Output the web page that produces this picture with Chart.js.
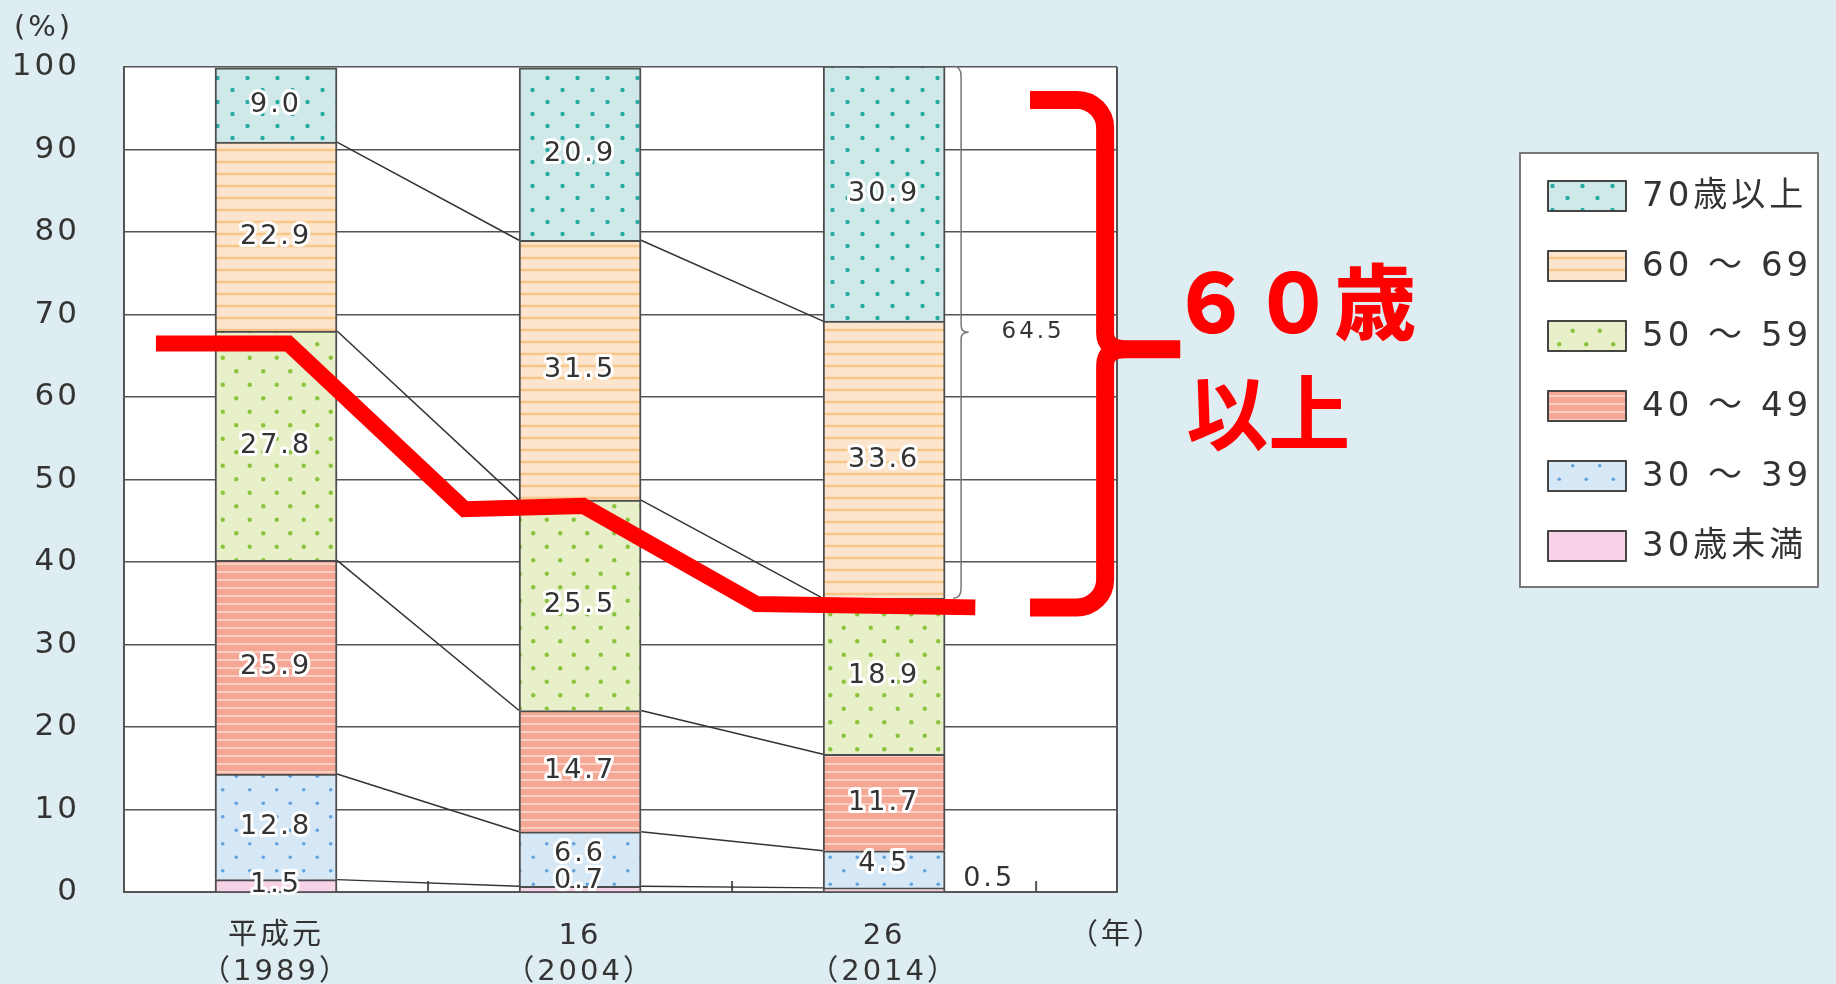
<!DOCTYPE html>
<html lang="ja">
<head>
<meta charset="utf-8">
<script src="https://cdn.jsdelivr.net/npm/chart.js@4.4.1/dist/chart.umd.min.js"></script>
<style>
  html, body { margin: 0; padding: 0; background: #ddedf2; }
  #wrap { width: 1836px; height: 984px; }
</style>
</head>
<body>
<div id="wrap"><canvas id="chart" width="1836" height="984"></canvas></div>
<script>
// --- data ---
const years = [['平成元', '（1989）'], ['16', '（2004）'], ['26', '（2014）']];
const yearPos = [0.5, 1.5, 2.5];
const xMax = 3.266;
const yearUnit = '（年）';
const ageGroups = ['30歳未満', '30 ～ 39', '40 ～ 49', '50 ～ 59', '60 ～ 69', '70歳以上'];
const under30 = [1.5, 0.7, 0.5];
const age30s = [12.8, 6.6, 4.5];
const age40s = [25.9, 14.7, 11.7];
const age50s = [27.8, 25.5, 18.9];
const age60s = [22.9, 31.5, 33.6];
const over70 = [9.0, 20.9, 30.9];
const series = [under30, age30s, age40s, age50s, age60s, over70];

// red hand drawn marking of the "60歳以上" share
const redLineX = [0.105, 0.54, 1.12, 1.51, 2.08, 2.80];
const redLineY = [66.5, 66.5, 46.4, 46.8, 34.9, 34.5];
const redBracketY = [96.0, 65.8, 34.5];    // top, tip, bottom
const redBracketX = [2.98, 3.227, 3.474];  // arm end, spine, tip
const redText = ['６０歳', '以上'];

const numFont = '"DejaVu Sans", "Noto Sans CJK JP", sans-serif';
const cjkFont = '"Noto Sans CJK JP", "DejaVu Sans", sans-serif';

// --- fills ---
const canvas = document.getElementById('chart');
const ctx = canvas.getContext('2d');

function makePattern(bg, w, h, draw) {
  const c = document.createElement('canvas');
  c.width = w; c.height = h;
  const g = c.getContext('2d');
  g.fillStyle = bg;
  g.fillRect(0, 0, w, h);
  if (draw) draw(g, w, h);
  return ctx.createPattern(c, 'repeat');
}
function dots(color, r) {
  return (g, w, h) => {
    g.fillStyle = color;
    [[w / 4, h / 4], [w * 3 / 4, h * 3 / 4]].forEach(([x, y]) => {
      g.beginPath(); g.arc(x, y, r, 0, Math.PI * 2); g.fill();
    });
  };
}
function stripes(color, lw) {
  return (g, w, h) => {
    g.fillStyle = color;
    g.fillRect(0, h / 2 - lw / 2, w, lw);
  };
}
const fills = [
  makePattern('#f8d2e6', 4, 4),
  makePattern('#d6e7f6', 27, 27, dots('#62a3de', 1.8)),
  makePattern('#f4a794', 8, 8, stripes('#fcdcd2', 1.5)),
  makePattern('#e7f0c8', 27, 27, dots('#8bc43c', 2.2)),
  makePattern('#fde5cd', 12, 12, stripes('#f8c688', 2.5)),
  makePattern('#cfe9e9', 30, 24, dots('#27aba3', 2.2))
];

function labelText(c, txt, x, y, font) {
  c.font = font;
  c.textAlign = 'center';
  c.textBaseline = 'middle';
  c.lineJoin = 'round';
  c.strokeStyle = '#fff';
  c.lineWidth = 6;
  c.strokeText(txt, x, y);
  c.fillStyle = '#333';
  c.fillText(txt, x, y);
}

const decor = {
  id: 'decor',
  beforeDraw(chart) {
    const { ctx: c, chartArea: a, width, height } = chart;
    c.letterSpacing = '3px';
    c.save();
    c.fillStyle = '#ddedf2';
    c.fillRect(0, 0, width, height);
    c.fillStyle = '#fff';
    c.fillRect(a.left, a.top, a.right - a.left, a.bottom - a.top);
    c.restore();
  },
  beforeDatasetsDraw(chart) {
    const { ctx: c, chartArea: a, scales: { x } } = chart;
    c.save();
    // right frame
    c.strokeStyle = '#555';
    c.lineWidth = 2;
    c.beginPath();
    c.moveTo(a.right, a.top); c.lineTo(a.right, a.bottom);
    c.stroke();
    // small ticks between the years
    yearPos.forEach(p => {
      const px = x.getPixelForValue(p + 0.5);
      c.beginPath(); c.moveTo(px, a.bottom); c.lineTo(px, a.bottom - 11); c.stroke();
    });
    // lines joining segment tops from bar to bar
    c.strokeStyle = '#333';
    c.lineWidth = 1.5;
    for (let k = 0; k < series.length - 1; k++) {
      const els = chart.getDatasetMeta(k).data;
      for (let i = 0; i < els.length - 1; i++) {
        const p = els[i].getProps(['x', 'y', 'width'], true);
        const q = els[i + 1].getProps(['x', 'y', 'width'], true);
        c.beginPath();
        c.moveTo(p.x + p.width / 2, p.y);
        c.lineTo(q.x - q.width / 2, q.y);
        c.stroke();
      }
    }
    c.restore();
  },
  afterDraw(chart) {
    const { ctx: c, scales: { x, y } } = chart;
    c.save();
    c.letterSpacing = '3px';
    // value labels
    series.forEach((vals, k) => {
      chart.getDatasetMeta(k).data.forEach((el, i) => {
        const p = el.getProps(['x', 'y', 'base', 'width'], true);
        let lx = p.x, ly = (p.y + p.base) / 2;
        if (vals[i] < 1) {
          if (i === vals.length - 1) { lx = p.x + p.width / 2 + 44; ly = p.base - 12; }
          else ly -= 8;
        } else if (vals[i] < 8 && k === 1) ly -= 5;
        labelText(c, vals[i].toFixed(1), lx, ly, '27px ' + numFont);
      });
    });

    // brace for the 60+ share in the last year
    const last = years.length - 1;
    const top = chart.getDatasetMeta(5).data[last].getProps(['x', 'y', 'width'], true);
    const low = chart.getDatasetMeta(3).data[last].getProps(['y'], true);
    const bx = top.x + top.width / 2 + 8;
    const mid = (top.y + low.y) / 2;
    c.strokeStyle = '#777';
    c.lineWidth = 1.5;
    c.beginPath();
    c.moveTo(bx, top.y);
    c.quadraticCurveTo(bx + 8, top.y, bx + 8, top.y + 10);
    c.lineTo(bx + 8, mid - 7);
    c.quadraticCurveTo(bx + 8, mid, bx + 15, mid);
    c.quadraticCurveTo(bx + 8, mid, bx + 8, mid + 7);
    c.lineTo(bx + 8, low.y - 10);
    c.quadraticCurveTo(bx + 8, low.y, bx, low.y);
    c.stroke();
    const share60 = age60s[last] + over70[last];
    c.font = '23px ' + numFont;
    c.fillStyle = '#333';
    c.textAlign = 'center';
    c.textBaseline = 'middle';
    c.fillText(share60.toFixed(1), bx + 80, mid);

    // unit of the value axis
    c.font = '29px ' + numFont;
    c.textAlign = 'left';
    c.fillText('(%)', 14, 28);

    // red bracket
    const yt = y.getPixelForValue(redBracketY[0]);
    const ym = y.getPixelForValue(redBracketY[1]);
    const yb = y.getPixelForValue(redBracketY[2]);
    const xa = x.getPixelForValue(redBracketX[0]);
    const xs = x.getPixelForValue(redBracketX[1]);
    const xt = x.getPixelForValue(redBracketX[2]);
    c.strokeStyle = '#ff0000';
    c.lineWidth = 18;
    c.lineCap = 'butt';
    c.lineJoin = 'round';
    c.beginPath();
    c.moveTo(xa, yt);
    c.arcTo(xs, yt, xs, ym, 28);
    c.lineTo(xs, ym - 16);
    c.quadraticCurveTo(xs, ym, xs + 20, ym);
    c.lineTo(xt, ym);
    c.moveTo(xs + 20, ym);
    c.quadraticCurveTo(xs, ym, xs, ym + 16);
    c.arcTo(xs, yb, xa, yb, 28);
    c.lineTo(xa, yb);
    c.stroke();

    c.letterSpacing = '0px';
    c.fillStyle = '#ff0000';
    c.textAlign = 'left';
    c.textBaseline = 'middle';
    c.font = '900 82px ' + cjkFont;
    c.fillText(redText[0], xt - 10, ym - 47);
    c.font = '700 82px ' + cjkFont;
    c.fillText(redText[1], xt + 6, ym + 64);

    // legend
    c.letterSpacing = '4px';
    const lx = 1520, ly = 153, lw = 298, lh = 434;
    c.fillStyle = '#fff';
    c.fillRect(lx, ly, lw, lh);
    c.strokeStyle = '#777';
    c.lineWidth = 2;
    c.strokeRect(lx, ly, lw, lh);
    for (let r = 0; r < series.length; r++) {
      const k = series.length - 1 - r;
      const cy = ly + 43 + r * 70;
      c.fillStyle = fills[k];
      c.fillRect(lx + 28, cy - 15, 78, 30);
      c.strokeStyle = '#444';
      c.strokeRect(lx + 28, cy - 15, 78, 30);
      c.fillStyle = '#333';
      c.font = '34px ' + numFont;
      c.textAlign = 'left';
      c.fillText(ageGroups[k], lx + 122, cy + 1);
    }
    c.restore();
  }
};

const datasets = series.map((vals, k) => ({
  label: ageGroups[k],
  data: vals.map((v, i) => ({ x: yearPos[i], y: v })),
  backgroundColor: fills[k],
  borderColor: '#4d4d4d',
  borderWidth: { top: 2, left: 2, right: 2, bottom: 0 },
  borderSkipped: false,
  barThickness: 122
}));
datasets.push({
  type: 'line',
  label: '60歳以上',
  data: redLineX.map((v, i) => ({ x: v, y: redLineY[i] })),
  borderColor: '#ff0000',
  borderWidth: 16,
  borderJoinStyle: 'miter',
  pointRadius: 0,
  tension: 0,
  fill: false,
  order: -1
});

new Chart(ctx, {
  type: 'bar',
  data: { datasets: datasets },
  options: {
    responsive: false,
    animation: false,
    layout: { padding: { top: 67, right: 719, left: 0, bottom: 0 } },
    plugins: {
      legend: { display: false },
      tooltip: { enabled: false }
    },
    scales: {
      x: {
        type: 'linear',
        stacked: true,
        offset: false,
        min: 0,
        max: xMax,
        afterBuildTicks: s => { s.ticks = yearPos.concat([xMax]).map(v => ({ value: v })); },
        afterFit: s => { s.height = 92; },
        grid: { display: false, offset: false },
        border: { display: true, color: '#555', width: 2 },
        ticks: {
          autoSkip: false,
          maxRotation: 0,
          minRotation: 0,
          padding: 18,
          color: '#333',
          font: { family: numFont, size: 29, lineHeight: 1.25 },
          callback: (v, i) => i < years.length ? years[i] : yearUnit
        }
      },
      y: {
        stacked: true,
        min: 0,
        max: 100,
        afterFit: s => { s.width = 124; },
        grid: { color: '#555', lineWidth: 1.5, drawTicks: false },
        border: { display: true, color: '#555', width: 2 },
        ticks: {
          stepSize: 10,
          padding: 44,
          color: '#333',
          font: { family: numFont, size: 31 }
        }
      }
    }
  },
  plugins: [decor]
});
</script>
</body>
</html>
